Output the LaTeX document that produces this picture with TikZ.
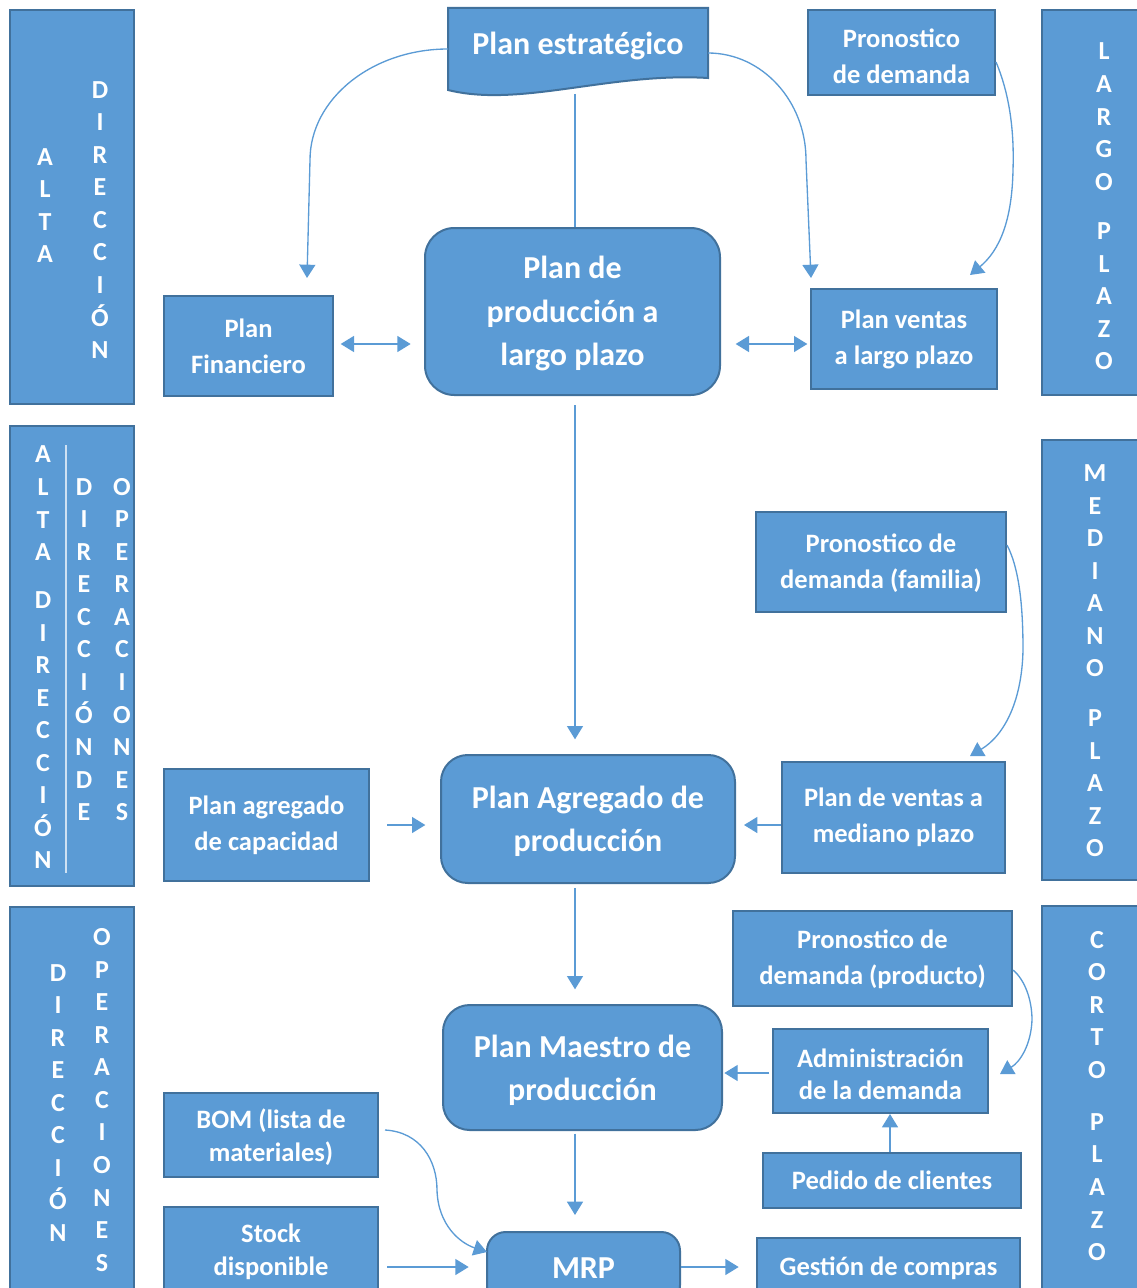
\documentclass[tikz,border=0pt]{standalone}
\usepackage{fontspec}
\setmainfont{Carlito}
\usetikzlibrary{arrows.meta,fit}
\definecolor{boxfill}{HTML}{5B9BD5}
\definecolor{boxline}{HTML}{41719C}
\definecolor{connc}{HTML}{5B9BD5}
\newcommand\fntS{\fontsize{19.9}{27}\selectfont}
\newcommand\fntT{\fontsize{19.9}{24.4}\selectfont}
\newcommand\fntL{\fontsize{24}{32.6}\selectfont}
\newcommand\fntC{\fontsize{19.5}{24.4}\selectfont}
\tikzset{
 blk/.style={draw=boxline, line width=1.5pt, fill=boxfill, text=white, font=\bfseries\fntS, align=center, inner sep=0pt},
 rblk/.style={blk, rounded corners=22pt, font=\bfseries\fntL},
 lane/.style={draw=boxline, line width=1.5pt, fill=boxfill, inner sep=0pt},
 lett/.style={text=white, font=\bfseries\fntC, align=center, inner sep=0pt},
 conn/.style={draw=connc, line width=1pt},
 arr/.style={conn, -{Triangle[length=10pt,width=12pt]}},
 darr/.style={conn, {Triangle[length=10pt,width=12pt]}-{Triangle[length=10pt,width=12pt]}},
}
% box from corner (x1,y1) to (x2,y2) in pixel units
\newcommand\bnode[7]{\node[#1, minimum width={(#5-#3)*0.75pt}, minimum height={(#6-#4)*0.75pt}] (#2) at ({(#3+#5)/2},{(#4+#6)/2}) {#7};}
\begin{document}
\begin{tikzpicture}[x=0.75pt,y=-0.75pt]
\useasboundingbox (0,0) rectangle (1137,1288);
\clip (0,0) rectangle (1137,1288);

% lanes
\node[lane, fit={(10,10)(134,404)}] (lane1) {};
\node[lane, fit={(10,426)(134,886)}] (lane2) {};
\node[lane, fit={(10,907)(134,1300)}] (lane3) {};
\node[lane, fit={(1042,10)(1150,395)}] (lane4) {};
\node[lane, fit={(1042,440)(1150,880)}] (lane5) {};
\node[lane, fit={(1042,906)(1150,1300)}] (lane6) {};
\draw[white!70!boxfill, line width=1pt] (66,445) -- (66,873);

\node[lett] (t1) at (45,205.5) {A\\L\\T\\A};
\node[lett] (t2) at (100,220) {D\\I\\R\\E\\C\\C\\I\\Ó\\N};
\node[lett] (t3) at (43,657.5) {A\\L\\T\\A\\[11.7pt]D\\I\\R\\E\\C\\C\\I\\Ó\\N};
\node[lett] (t4) at (84,649.5) {D\\I\\R\\E\\C\\C\\I\\Ó\\N\\D\\E};
\node[lett] (t5) at (122,649.5) {O\\P\\E\\R\\A\\C\\I\\O\\N\\E\\S};
\node[lett] (t6) at (58,1103) {D\\I\\R\\E\\C\\C\\I\\Ó\\N};
\node[lett] (t7) at (102,1100) {O\\P\\E\\R\\A\\C\\I\\O\\N\\E\\S};
\node[lett] (t8) at (1104,206.5) {L\\A\\R\\G\\O\\[12.7pt]P\\L\\A\\Z\\O};
\node[lett] (t9) at (1095,661) {M\\E\\D\\I\\A\\N\\O\\[13pt]P\\L\\A\\Z\\O};
\node[lett] (t10) at (1097,1096) {C\\O\\R\\T\\O\\[14.6pt]P\\L\\A\\Z\\O};

% Plan estrategico (document shape)
\path[draw=boxline, fill=boxfill, line width=1.5pt]
  (448,8) -- (708,8) -- (708,78) .. controls (610,72) and (520,108) .. (448,90) -- cycle;
\node[text=white, font=\bfseries\fntL, inner sep=0pt] (est) at (578,46) {Plan estratégico};
\coordinate (estL) at (448,49);
\coordinate (estR) at (708,53);
\coordinate (estB) at (575,94);

% boxes
\bnode{blk, text height=47.3pt}{pron1}{808}{10}{995}{95}{Pronostico\\de demanda}
\bnode{blk}{fin}{164}{296}{333}{396}{Plan\\Financiero}
\bnode{rblk, text depth=0.5pt}{prod}{425}{228}{720}{395}{Plan de\\producción a\\largo plazo}
\bnode{blk}{vlp}{811}{289}{997}{389}{Plan ventas\\a largo plazo}
\bnode{blk, text depth=1.5pt}{pron2}{756}{512}{1006}{612}{Pronostico de\\demanda (familia)}
\bnode{blk}{vmp}{782}{762}{1005}{873}{Plan de ventas a\\mediano plazo}
\bnode{rblk, rounded corners=20pt, text depth=0pt}{agreg}{441}{755}{735}{883}{Plan Agregado de\\producción}
\bnode{blk}{cap}{164}{769}{369}{881}{Plan agregado\\de capacidad}
\bnode{blk, text depth=1.5pt}{pron3}{733}{911}{1012}{1006}{Pronostico de\\demanda (producto)}
\bnode{blk, font=\bfseries\fntT, text height=43.6pt}{adm}{773}{1029}{988}{1113}{Administración\\de la demanda}
\bnode{blk}{ped}{763}{1153}{1021}{1208}{Pedido de clientes}
\bnode{rblk, rounded corners=20pt, text depth=0pt}{mps}{443}{1005}{722}{1130}{Plan Maestro de\\producción}
\bnode{blk, font=\bfseries\fntT, text depth=0pt}{bom}{164}{1093}{378}{1177}{BOM (lista de\\materiales)}
\bnode{blk, font=\bfseries\fntT}{stock}{164}{1207}{378}{1297}{Stock\\disponible}
\bnode{rblk, rounded corners=14pt}{mrp}{487}{1232}{680}{1304}{MRP}
\bnode{blk}{comp}{757}{1238}{1020}{1298}{Gestión de compras}

% helper coordinates
\coordinate (h344) at (0,344);
\coordinate (h825) at (0,825);
\coordinate (h1073) at (0,1073);
\coordinate (h1267) at (0,1267);
\coordinate (v575) at (575,0);
\coordinate (v890) at (890,0);

% connectors
\draw[arr] (estL) .. controls (372,49) and (310,99) .. (310,160) -- (307,278);
\draw[arr] (estR) .. controls (762,53) and (806,101) .. (806,160) -- (811,278);
\draw[conn] (estB) -- (estB |- prod.north);
\draw[arr] (pron1.east |- 0,62) .. controls (1012,100) and (1014,140) .. (1013,170) .. controls (1012,220) and (1000,250) .. (970,275);
\draw[darr, shorten <=5pt, shorten >=10pt] (fin.east |- h344) -- (prod.west |- h344);
\draw[darr, shorten <=11pt, shorten >=2pt] (prod.east |- h344) -- (vlp.west |- h344);
\draw[arr, shorten <=7pt, shorten >=11pt] (prod.south -| v575) -- (agreg.north -| v575);
\draw[arr] (pron2.east |- 0,545) .. controls (1020,570) and (1023,610) .. (1023,650) .. controls (1022,700) and (1005,735) .. (970,756);
\draw[arr, shorten >=6pt] (vmp.west |- h825) -- (agreg.east |- h825);
\draw[arr, shorten <=13pt, shorten >=11pt] (cap.east |- h825) -- (agreg.west |- h825);
\draw[arr, shorten <=3pt, shorten >=11pt] (agreg.south -| v575) -- (mps.north -| v575);
\draw[arr] (pron3.east |- 0,970) .. controls (1025,980) and (1032,1000) .. (1032,1020) .. controls (1031,1045) and (1020,1062) .. (1000,1074);
\draw[arr, shorten <=2pt, shorten >=1pt] (adm.west |- h1073) -- (mps.east |- h1073);
\draw[arr] (ped.north -| v890) -- (adm.south -| v890);
\draw[arr, shorten <=2pt, shorten >=12pt] (mps.south -| v575) -- (mrp.north -| v575);
\draw[arr] (bom.east |- 0,1130) ++(6,0) .. controls (420,1132) and (437,1160) .. (437,1190) .. controls (438,1225) and (460,1243) .. (487,1252);
\draw[arr, shorten <=6pt, shorten >=13pt] (stock.east |- h1267) -- (mrp.west |- h1267);
\draw[arr, shorten >=13pt] (mrp.east |- h1267) -- (comp.west |- h1267);
\end{tikzpicture}
\end{document}
